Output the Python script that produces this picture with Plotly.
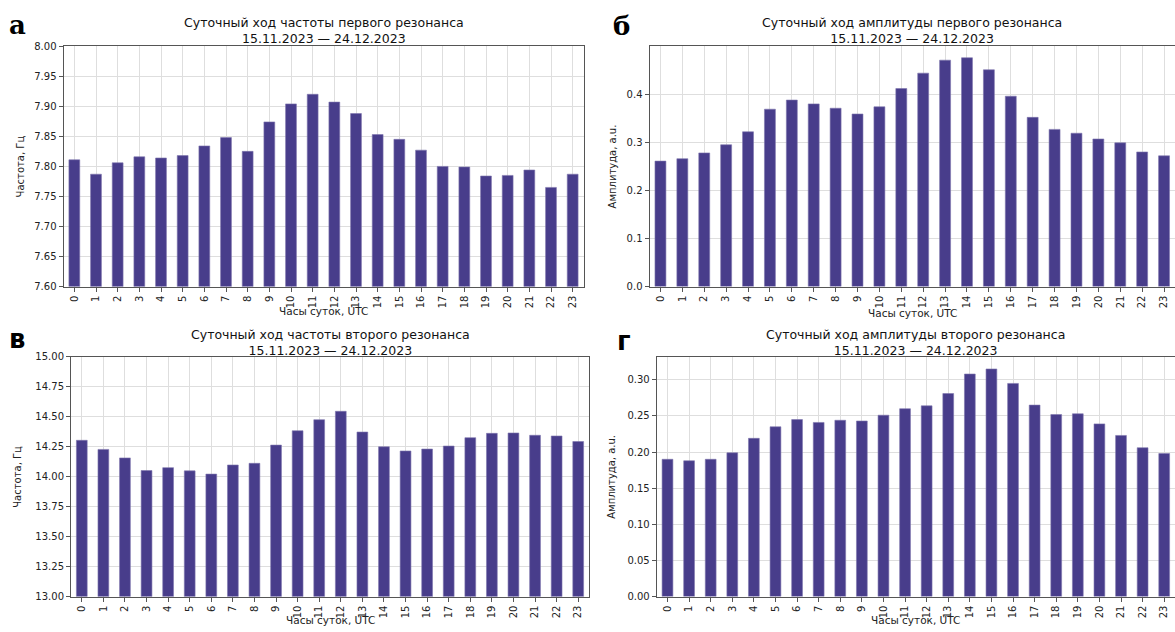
import plotly.graph_objects as go

# ---------------- data ----------------
hours = ["0", "1", "2", "3", "4", "5", "6", "7", "8", "9", "10", "11",
         "12", "13", "14", "15", "16", "17", "18", "19", "20", "21", "22", "23"]

freq1 = [7.811, 7.787, 7.806, 7.816, 7.814, 7.818, 7.834, 7.848, 7.825, 7.874, 7.904, 7.920,
         7.907, 7.888, 7.853, 7.845, 7.827, 7.800, 7.799, 7.784, 7.785, 7.794, 7.765, 7.787]
amp1 = [0.261, 0.266, 0.278, 0.295, 0.322, 0.369, 0.388, 0.380, 0.371, 0.359, 0.374, 0.412,
        0.444, 0.471, 0.476, 0.451, 0.396, 0.352, 0.327, 0.319, 0.307, 0.299, 0.280, 0.272]
freq2 = [14.304, 14.228, 14.157, 14.052, 14.076, 14.049, 14.022, 14.098, 14.112, 14.264, 14.384, 14.476,
         14.546, 14.373, 14.250, 14.215, 14.231, 14.256, 14.326, 14.362, 14.365, 14.346, 14.340, 14.294]
amp2 = [0.190, 0.188, 0.190, 0.199, 0.219, 0.235, 0.245, 0.241, 0.244, 0.243, 0.251, 0.260,
        0.264, 0.281, 0.308, 0.315, 0.295, 0.265, 0.252, 0.253, 0.239, 0.223, 0.206, 0.198]

yticks_f1 = [7.60, 7.65, 7.70, 7.75, 7.80, 7.85, 7.90, 7.95, 8.00]
yticks_a1 = [0.0, 0.1, 0.2, 0.3, 0.4]
yticks_f2 = [13.00, 13.25, 13.50, 13.75, 14.00, 14.25, 14.50, 14.75, 15.00]
yticks_a2 = [0.00, 0.05, 0.10, 0.15, 0.20, 0.25, 0.30]

title_dates = "15.11.2023 — 24.12.2023"
xtitle = "Часы суток, UTC"

# ---------------- layout helpers ----------------
W, H = 1175, 632
def fx(p):
    return p / W
def fy(p):
    return 1 - p / H

BAR = "#483D8B"
GRID = "#dedede"
SPINE = "#555555"
FONT = "DejaVu Sans"

panels = [
    dict(letter="а", lserif=True, lx=17, ly=19, data=freq1,
         xd=(63.5, 583.5), yd=(41, 286), yr=[7.60, 8.00], tv=yticks_f1, fmt="{:.2f}",
         t1="Суточный ход частоты первого резонанса", ty=25,
         ytitle="Частота, Гц", ytx=20, xty=311, right=False),
    dict(letter="б", lserif=True, lx=621, ly=20, data=amp1,
         xd=(649.5, 1175), yd=(41, 286), yr=[0.0, 0.5], tv=yticks_a1, fmt="{:.1f}",
         t1="Суточный ход амплитуды первого резонанса", ty=25,
         ytitle="Амплитуда, a.u.", ytx=612, xty=313, right=True),
    dict(letter="в", lserif=False, lx=17, ly=339, data=freq2,
         xd=(71, 589), yd=(357.7, 602), yr=[13.0, 15.0], tv=yticks_f2, fmt="{:.2f}",
         t1="Суточный ход частоты второго резонанса", ty=343,
         ytitle="Частота, Гц", ytx=18, xty=626, right=False),
    dict(letter="г", lserif=False, lx=624, ly=341, data=amp2,
         xd=(656.7, 1175), yd=(357.7, 602), yr=[0.0, 0.3317], tv=yticks_a2, fmt="{:.2f}",
         t1="Суточный ход амплитуды второго резонанса", ty=343,
         ytitle="Амплитуда, a.u.", ytx=612, xty=626, right=True),
]

fig = go.Figure()
annotations = []
layout = {}

for i, p in enumerate(panels):
    n = "" if i == 0 else str(i + 1)
    xa, ya = "x" + n, "y" + n
    fig.add_trace(go.Bar(
        x=hours, y=p["data"], xaxis=xa, yaxis=ya, width=0.5,
        marker=dict(color=BAR, line=dict(color="#7d76ad", width=0.6)),
        showlegend=False, hoverinfo="x+y"))

    layout["xaxis" + n] = dict(
        domain=[fx(p["xd"][0]), min(1.0, fx(p["xd"][1]))], anchor=ya,
        type="category", range=[-0.5, 23.5],
        showgrid=True, gridcolor=GRID, gridwidth=1,
        showline=True, linecolor=SPINE, linewidth=1, mirror=True,
        ticks="outside", ticklen=4, tickcolor=SPINE, tickangle=-90,
        tickfont=dict(family=FONT, size=10, color="#222"), zeroline=False)
    layout["yaxis" + n] = dict(
        domain=[fy(p["yd"][1]), fy(p["yd"][0])], anchor=xa,
        range=p["yr"], tickvals=p["tv"], ticktext=[p["fmt"].format(v) for v in p["tv"]],
        showgrid=True, gridcolor=GRID, gridwidth=1,
        showline=True, linecolor=SPINE, linewidth=1, mirror=(not p["right"]),
        ticks="outside", ticklen=4, tickcolor=SPINE,
        tickfont=dict(family=FONT, size=10, color="#222"), zeroline=False)

    cx = (p["xd"][0] + p["xd"][1]) / 2
    annotations += [
        dict(text=p["t1"] + "<br>" + title_dates, x=fx(cx), y=fy(p["ty"]),
             xref="paper", yref="paper", xanchor="center", yanchor="middle",
             showarrow=False, font=dict(family=FONT, size=12.5, color="#111")),
        dict(text=xtitle, x=fx(cx), y=fy(p["xty"]), xref="paper", yref="paper",
             xanchor="center", yanchor="middle", showarrow=False,
             font=dict(family=FONT, size=10.5, color="#222")),
        dict(text=p["ytitle"], x=fx(p["ytx"]), y=fy((p["yd"][0] + p["yd"][1]) / 2),
             xref="paper", yref="paper", xanchor="center", yanchor="middle",
             textangle=-90, showarrow=False,
             font=dict(family=FONT, size=10, color="#222")),
        dict(text="<b>" + p["letter"] + "</b>", x=fx(p["lx"]), y=fy(p["ly"]),
             xref="paper", yref="paper", xanchor="center", yanchor="middle", showarrow=False,
             font=dict(family=("DejaVu Serif" if p["lserif"] else FONT), size=26, color="#000")),
    ]

fig.update_layout(
    width=W, height=H, margin=dict(l=0, r=0, t=0, b=0),
    paper_bgcolor="white", plot_bgcolor="white",
    annotations=annotations, bargap=0.5, **layout)

fig.write_html(
    "out.html",
    config={"displayModeBar": False},
    post_script="document.body.style.margin='0px';document.body.style.overflow='hidden';")
